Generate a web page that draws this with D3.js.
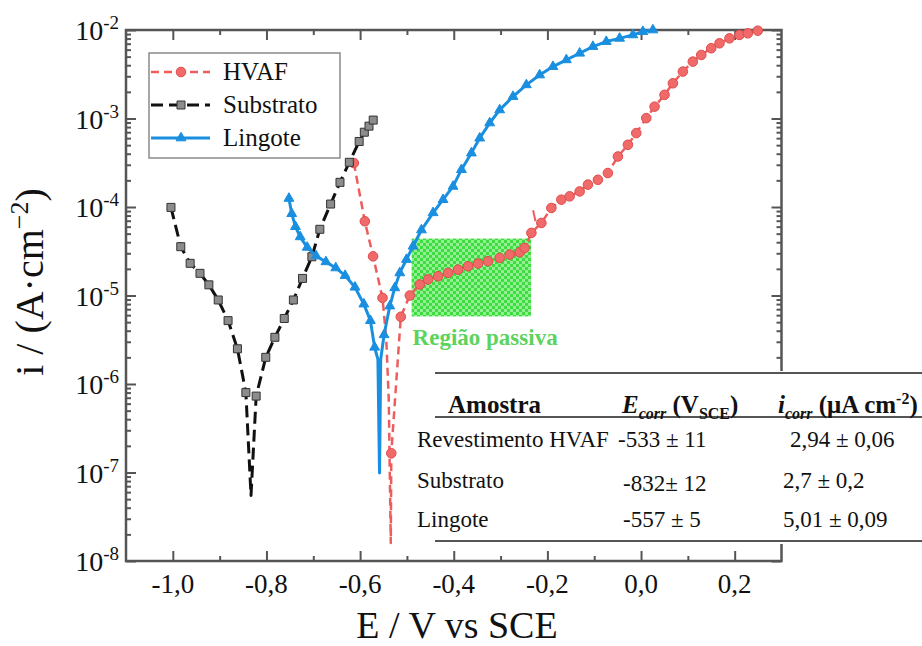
<!DOCTYPE html>
<html>
<head>
<meta charset="utf-8">
<script src="https://cdn.jsdelivr.net/npm/d3@7"></script>
<style>
  body { margin: 0; background: #fff; }
  svg { display: block; }
  text, tspan { font-family: "Liberation Serif", "Times New Roman", serif; }
  text { fill: #111; }
</style>
</head>
<body>
<svg id="chart" width="922" height="646" font-family="Liberation Serif, Times New Roman, serif"></svg>
<script>
// ---- Polarisation data: [E (V vs SCE), i (A/cm²)] ----
const hvafCathodic = [
  [-0.6134, 3.14e-4], [-0.5899, 6.9e-5], [-0.5723, 2.77e-5], [-0.5522, 9.4e-6]
];
const hvafDip = [
  [-0.5441, 3.2e-6], [-0.5388, 6.7e-7], [-0.5345, 1.6e-8]
];
const hvafAnodic = [
  [-0.5334, 1.65e-7], [-0.5131, 5.75e-6], [-0.4939, 1.0e-5],
  [-0.4726, 1.33e-5], [-0.4549, 1.52e-5], [-0.4335, 1.65e-5], [-0.4122, 1.8e-5],
  [-0.3909, 1.96e-5], [-0.3695, 2.14e-5], [-0.3482, 2.3e-5], [-0.3269, 2.44e-5],
  [-0.3019, 2.66e-5], [-0.2805, 2.9e-5], [-0.2592, 3.08e-5], [-0.2485, 3.45e-5],
  [-0.2342, 5.1e-5], [-0.2129, 6.6e-5], [-0.1915, 9.75e-5], [-0.1702, 1.21e-4],
  [-0.1525, 1.32e-4], [-0.1311, 1.5e-4], [-0.1134, 1.79e-4], [-0.0921, 2.03e-4],
  [-0.0708, 2.42e-4], [-0.0494, 3.72e-4], [-0.028, 5.05e-4], [-0.0102, 6.84e-4],
  [0.0112, 1.01e-3], [0.0289, 1.36e-3], [0.0502, 1.85e-3], [0.068, 2.5e-3],
  [0.0893, 3.39e-3], [0.1106, 4.39e-3], [0.1286, 5.22e-3], [0.1499, 6.22e-3],
  [0.1676, 7.08e-3], [0.1889, 8.05e-3], [0.2103, 8.8e-3], [0.228, 9.18e-3],
  [0.2493, 9.82e-3]
];
const hvafPittingMark = [[-0.2305, 9.2e-5], [-0.2254, 6.9e-5]];

const substratoCathodic = [
  [-1.004, 9.9e-5], [-0.983, 3.56e-5], [-0.963, 2.31e-5], [-0.942, 1.78e-5],
  [-0.923, 1.32e-5], [-0.903, 8.9e-6], [-0.882, 5.2e-6], [-0.862, 2.5e-6],
  [-0.844, 8.0e-7]
];
const substratoDip = [[-0.833, 5.5e-8]];
const substratoAnodic = [
  [-0.822, 7.3e-7], [-0.8015, 2.0e-6], [-0.782, 3.37e-6], [-0.762, 5.5e-6],
  [-0.7425, 8.9e-6], [-0.723, 1.56e-5], [-0.703, 2.74e-5], [-0.686, 5.6e-5],
  [-0.663, 1.08e-4], [-0.643, 1.9e-4], [-0.623, 3.2e-4], [-0.602, 5.5e-4],
  [-0.591, 7.0e-4], [-0.581, 8.2e-4], [-0.572, 9.6e-4]
];

const lingoteCathodic = [
  [-0.752, 1.25e-4], [-0.746, 8.4e-5], [-0.738, 6.0e-5], [-0.728, 4.6e-5],
  [-0.713, 3.5e-5], [-0.694, 2.8e-5], [-0.673, 2.4e-5], [-0.652, 2.05e-5],
  [-0.632, 1.68e-5], [-0.611, 1.24e-5], [-0.592, 8.0e-6], [-0.578, 5.2e-6],
  [-0.569, 2.6e-6]
];
const lingoteDip = [[-0.562, 1.9e-6], [-0.5585, 9.9e-8], [-0.556, 1.9e-6]];
const lingoteAnodic = [
  [-0.5488, 3.6e-6], [-0.5366, 7.6e-6], [-0.526, 1.22e-5], [-0.5153, 1.8e-5],
  [-0.501, 2.55e-5], [-0.4869, 3.6e-5], [-0.469, 5.5e-5], [-0.4442, 8.6e-5],
  [-0.4229, 1.21e-4], [-0.4015, 1.71e-4], [-0.3836, 2.64e-4], [-0.3623, 4.07e-4],
  [-0.3446, 6.0e-4], [-0.3232, 8.9e-4], [-0.3019, 1.25e-3], [-0.2735, 1.77e-3],
  [-0.2449, 2.4e-3], [-0.2165, 3.1e-3], [-0.1881, 3.86e-3], [-0.1595, 4.6e-3],
  [-0.1311, 5.46e-3], [-0.1028, 6.5e-3], [-0.0742, 7.4e-3], [-0.0458, 8.05e-3],
  [-0.0174, 8.8e-3], [0.0039, 9.6e-3], [0.0253, 1.0e-2]
];

// Passive region box: potential span and current span
const passiveE = [-0.49, -0.235];
const passiveI = [5.8e-6, 4.4e-5];
const passiveLabel = "Região passiva";

// Axis ticks
const xMajor = [-1.0, -0.8, -0.6, -0.4, -0.2, 0.0, 0.2];
const xMinor = [-0.9, -0.7, -0.5, -0.3, -0.1, 0.1];
const xTickLabels = ["-1,0", "-0,8", "-0,6", "-0,4", "-0,2", "0,0", "0,2"];
const yExponents = [-2, -3, -4, -5, -6, -7, -8];

// Legend and table text
const legendNames = ["HVAF", "Substrato", "Lingote"];
const tableSamples = ["Revestimento HVAF", "Substrato", "Lingote"];
const tableEcorr = ["-533 ± 11", "-832± 12", "-557 ± 5"];
const tableIcorr = ["2,94 ± 0,06", "2,7 ± 0,2", "5,01 ± 0,09"];

// ---- Layout ----
const svg = d3.select("#chart");
const L = 126, R = 781.5, T = 30, B = 561;
const x = d3.scaleLinear().domain([-1.1, 0.3]).range([L, R]);
const y = d3.scaleLog().domain([1e-8, 1e-2]).range([B, T]);

const frameColor = "#555";
const red = "#ee5d5d", blue = "#1a8fe0";

// checkered green fill for the passive region
const defs = svg.append("defs");
const pat = defs.append("pattern").attr("id", "checker")
  .attr("patternUnits", "userSpaceOnUse").attr("width", 6).attr("height", 6);
pat.append("rect").attr("width", 6).attr("height", 6).attr("fill", "#93ef93");
pat.append("rect").attr("width", 3).attr("height", 3).attr("fill", "#3fdc3f");
pat.append("rect").attr("x", 3).attr("y", 3).attr("width", 3).attr("height", 3).attr("fill", "#3fdc3f");

svg.append("rect")
  .attr("x", x(passiveE[0])).attr("y", y(passiveI[1]))
  .attr("width", x(passiveE[1]) - x(passiveE[0]))
  .attr("height", y(passiveI[0]) - y(passiveI[1]))
  .attr("fill", "url(#checker)");

svg.append("text")
  .attr("x", x(passiveE[0]) + 1).attr("y", 345)
  .attr("font-size", 23).attr("font-weight", "bold")
  .style("fill", "#5cd35c")
  .text(passiveLabel);

// ---- Axes (ticks point inward on all four sides) ----
const minorY = [];
for (let e = -8; e < -2; e++) for (let m = 2; m <= 9; m++) minorY.push(m * Math.pow(10, e));
const majorY = yExponents.map(e => Math.pow(10, e));

function axisGroup(axis, tx, ty) {
  const g = svg.append("g").attr("transform", `translate(${tx},${ty})`).call(axis);
  g.select(".domain").remove();
  g.selectAll("line").attr("stroke", frameColor).attr("stroke-width", 2);
  g.selectAll("text").remove();
  return g;
}
axisGroup(d3.axisBottom(x).tickValues(xMajor).tickSize(-10), 0, B);
axisGroup(d3.axisBottom(x).tickValues(xMinor).tickSize(-5), 0, B);
axisGroup(d3.axisTop(x).tickValues(xMajor).tickSize(-10), 0, T);
axisGroup(d3.axisTop(x).tickValues(xMinor).tickSize(-5), 0, T);
axisGroup(d3.axisLeft(y).tickValues(majorY).tickSize(-10), L, 0);
axisGroup(d3.axisLeft(y).tickValues(minorY).tickSize(-5), L, 0);
axisGroup(d3.axisRight(y).tickValues(majorY).tickSize(-10), R, 0);
axisGroup(d3.axisRight(y).tickValues(minorY).tickSize(-5), R, 0);

svg.append("rect").attr("x", L).attr("y", T).attr("width", R - L).attr("height", B - T)
  .attr("fill", "none").attr("stroke", frameColor).attr("stroke-width", 2.5);

// tick labels
svg.append("g").selectAll("text").data(xMajor).join("text")
  .attr("x", d => x(d)).attr("y", 593).attr("text-anchor", "middle")
  .attr("font-size", 27).text((d, i) => xTickLabels[i]);

const yl = svg.append("g").selectAll("text").data(yExponents).join("text")
  .attr("x", 119).attr("y", d => y(Math.pow(10, d)) + 10)
  .attr("text-anchor", "end").attr("font-size", 28);
yl.append("tspan").text("10");
yl.append("tspan").attr("font-size", 19).attr("dy", -11).text(d => "-" + Math.abs(d));

// axis titles
svg.append("text").attr("x", 457).attr("y", 638).attr("text-anchor", "middle")
  .attr("font-size", 38).text("E / V vs SCE");
const yt = svg.append("text").attr("transform", "translate(43,282) rotate(-90)")
  .attr("text-anchor", "middle").attr("font-size", 40);
yt.append("tspan").text("i / (A·cm");
yt.append("tspan").attr("font-size", 26).attr("dy", -15).text("−2");
yt.append("tspan").attr("dy", 15).text(")");

// ---- Curves ----
const line = d3.line().x(d => x(d[0])).y(d => y(d[1]));

const series = [
  { line: [...hvafCathodic, ...hvafDip, ...hvafAnodic], marks: [...hvafCathodic, ...hvafAnodic],
    stroke: red, width: 2.5, dash: "8,5", symbol: d3.symbolCircle, size: 72,
    fill: "#f06a6a", mstroke: "#e04c4c" },
  { line: [...substratoCathodic, ...substratoDip, ...substratoAnodic], marks: [...substratoCathodic, ...substratoAnodic],
    stroke: "#111", width: 3, dash: "12,6", symbol: d3.symbolSquare, size: 64,
    fill: "#8c8c8c", mstroke: "#333" },
  { line: [...lingoteCathodic, ...lingoteDip, ...lingoteAnodic], marks: [...lingoteCathodic, ...lingoteAnodic],
    stroke: blue, width: 3, dash: null, symbol: d3.symbolTriangle, size: 42,
    fill: blue, mstroke: blue }
];

series.forEach(s => {
  svg.append("path").datum(s.line).attr("d", line)
    .attr("fill", "none").attr("stroke", s.stroke).attr("stroke-width", s.width)
    .attr("stroke-dasharray", s.dash).attr("stroke-linejoin", "round");
  svg.append("g").selectAll("path").data(s.marks).join("path")
    .attr("transform", d => `translate(${x(d[0])},${y(d[1])})`)
    .attr("d", d3.symbol().type(s.symbol).size(s.size))
    .attr("fill", s.fill).attr("stroke", s.mstroke).attr("stroke-width", 1);
});

svg.append("path").datum(hvafPittingMark).attr("d", line)
  .attr("fill", "none").attr("stroke", red).attr("stroke-width", 2);

// ---- Legend ----
const lg = svg.append("g");
lg.append("rect").attr("x", 149).attr("y", 53).attr("width", 191).attr("height", 105)
  .attr("fill", "#fff").attr("stroke", "#8a8a8a").attr("stroke-width", 1.5);
const legendY = [72, 105, 138];
series.forEach((s, i) => {
  const yy = legendY[i];
  lg.append("line").attr("x1", 151).attr("x2", 210).attr("y1", yy).attr("y2", yy)
    .attr("stroke", s.stroke).attr("stroke-width", s.width).attr("stroke-dasharray", s.dash);
  lg.append("path").attr("transform", `translate(181,${yy})`)
    .attr("d", d3.symbol().type(s.symbol).size(s.size))
    .attr("fill", s.fill).attr("stroke", s.mstroke).attr("stroke-width", 1);
  lg.append("text").attr("x", 223).attr("y", yy + 8).attr("font-size", 25).text(legendNames[i]);
});

// ---- Results table ----
const tb = svg.append("g");
tb.append("rect").attr("x", 408).attr("y", 371).attr("width", 514).attr("height", 173).attr("fill", "#fff");
[373, 417, 541].forEach(ry => tb.append("line").attr("x1", 435).attr("x2", 922)
  .attr("y1", ry).attr("y2", ry).attr("stroke", frameColor).attr("stroke-width", 2));

tb.append("text").attr("x", 448).attr("y", 413).attr("font-size", 25).attr("font-weight", "bold").text("Amostra");
const h2 = tb.append("text").attr("x", 622).attr("y", 413).attr("font-size", 25).attr("font-weight", "bold");
h2.append("tspan").attr("font-style", "italic").text("E");
h2.append("tspan").attr("font-style", "italic").attr("font-size", 16).attr("dy", 6).text("corr");
h2.append("tspan").attr("dy", -6).text(" (V");
h2.append("tspan").attr("font-size", 16).attr("dy", 6).text("SCE");
h2.append("tspan").attr("dy", -6).text(")");
const h3 = tb.append("text").attr("x", 778).attr("y", 413).attr("font-size", 25).attr("font-weight", "bold");
h3.append("tspan").attr("font-style", "italic").text("i");
h3.append("tspan").attr("font-style", "italic").attr("font-size", 16).attr("dy", 6).text("corr");
h3.append("tspan").attr("dy", -6).text(" (μA cm");
h3.append("tspan").attr("font-size", 16).attr("dy", -9).text("-2");
h3.append("tspan").attr("dy", 9).text(")");

const rowY = [447, 488, 527];
const col2X = [618, 623, 623];
const col3X = [790, 783, 783];
tableSamples.forEach((s, i) => {
  tb.append("text").attr("x", 417).attr("y", rowY[i]).attr("font-size", 23).text(s);
  tb.append("text").attr("x", col2X[i]).attr("y", rowY[i] + (i === 1 ? 3 : 0)).attr("font-size", 23).text(tableEcorr[i]);
  tb.append("text").attr("x", col3X[i]).attr("y", rowY[i]).attr("font-size", 23).text(tableIcorr[i]);
});
</script>
</body>
</html>
